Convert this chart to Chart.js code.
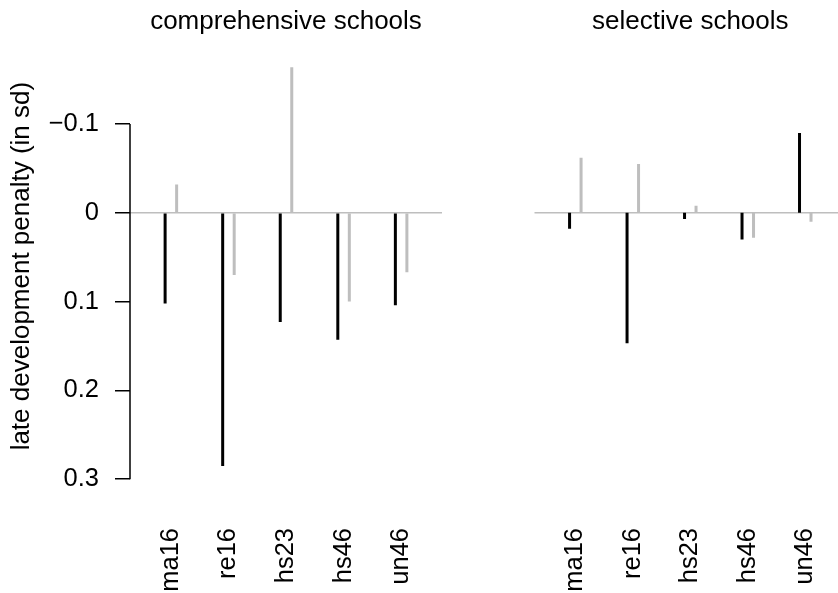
<!DOCTYPE html>
<html>
<head>
<meta charset="utf-8">
<script src="https://cdn.jsdelivr.net/npm/chart.js@4"></script>
<style>
  html, body { margin: 0; padding: 0; background: #fff; overflow: hidden; }
  #wrap { position: relative; width: 838px; height: 593px; overflow: hidden; }
  #left { position: absolute; left: 0; top: 0; }
  #right { position: absolute; left: 470px; top: 0; }
</style>
</head>
<body>
<div id="wrap">
  <canvas id="left" width="470" height="593"></canvas>
  <canvas id="right" width="400" height="593"></canvas>
</div>
<script>
// Data
const categories = ['ma16', 're16', 'hs23', 'hs46', 'un46'];
const compBlack = [0.102, 0.285, 0.123, 0.143, 0.104];
const compGray = [-0.032, 0.070, -0.164, 0.100, 0.067];
const selBlack = [0.018, 0.147, 0.007, 0.030, -0.090];
const selGray = [-0.062, -0.055, -0.008, 0.028, 0.010];
const yTicks = [-0.1, 0, 0.1, 0.2, 0.3];

const FONT = "'Liberation Sans', Arial, Helvetica, sans-serif";
const GRAY = '#bebebe';
Chart.defaults.font.family = FONT;
Chart.defaults.color = '#000';

const toPoints = (vals) => vals.map((v, i) => ({ x: i + 1, y: v }));
const fmtTick = (v) => v < 0 ? '\u2212' + Math.abs(v) : String(v);

// grey zero line and short R-style y axis line
const refLines = {
    id: 'refLines',
    beforeDatasetsDraw(chart, args, opts) {
        const { ctx, chartArea, scales } = chart;
        const y0 = scales.y.getPixelForValue(0);
        ctx.save();
        ctx.strokeStyle = GRAY;
        ctx.lineWidth = 1.5;
        ctx.beginPath();
        ctx.moveTo(chartArea.left, y0);
        ctx.lineTo(chartArea.right, y0);
        ctx.stroke();
        if (opts.axis) {
            ctx.strokeStyle = '#000';
            ctx.beginPath();
            ctx.moveTo(chartArea.left, scales.y.getPixelForValue(yTicks[0]));
            ctx.lineTo(chartArea.left, scales.y.getPixelForValue(yTicks[yTicks.length - 1]));
            ctx.stroke();
        }
        ctx.restore();
    }
};

const makeChart = (id, title, black, gray, showAxis, padding) => {
    const ctx = document.getElementById(id).getContext('2d');
    return new Chart(ctx, {
        type: 'bar',
        data: {
            datasets: [
                {
                    data: toPoints(black),
                    backgroundColor: '#000',
                    maxBarThickness: 3,
                    categoryPercentage: 0.4,
                    barPercentage: 1
                },
                {
                    data: toPoints(gray),
                    backgroundColor: GRAY,
                    maxBarThickness: 3,
                    categoryPercentage: 0.4,
                    barPercentage: 1
                }
            ]
        },
        options: {
            responsive: false,
            animation: false,
            devicePixelRatio: 1,
            layout: { padding: padding },
            plugins: {
                legend: { display: false },
                tooltip: { enabled: false },
                title: {
                    display: true,
                    text: title,
                    fullSize: false,
                    font: { size: 26, weight: 'normal' },
                    padding: { top: 6, bottom: -2 }
                },
                refLines: { axis: showAxis }
            },
            scales: {
                x: {
                    type: 'linear',
                    offset: false,
                    min: 0.29,
                    max: 5.71,
                    afterBuildTicks: (scale) => { scale.ticks = categories.map((c, i) => ({ value: i + 1 })); },
                    afterFit: (scale) => { scale.height = 96; },
                    grid: { display: false, drawTicks: false },
                    border: { display: false },
                    ticks: {
                        autoSkip: false,
                        minRotation: 90,
                        maxRotation: 90,
                        padding: 31,
                        font: { size: 25.5 },
                        callback: (v) => categories[v - 1]
                    }
                },
                y: {
                    display: showAxis,
                    reverse: true,
                    min: -0.2,
                    max: 0.32,
                    afterBuildTicks: (scale) => { scale.ticks = yTicks.map(v => ({ value: v })); },
                    afterFit: (scale) => { if (showAxis) scale.width = 130; },
                    grid: {
                        drawOnChartArea: false,
                        drawTicks: true,
                        tickLength: 15,
                        color: '#000',
                        lineWidth: 1.5
                    },
                    border: { display: false },
                    ticks: {
                        padding: 16,
                        font: { size: 25.5 },
                        callback: (v) => fmtTick(v)
                    },
                    title: {
                        display: true,
                        text: 'late development penalty (in sd)',
                        font: { size: 26 },
                        padding: { top: 6, bottom: 0 }
                    }
                }
            }
        },
        plugins: [refLines]
    });
};

makeChart('left', 'comprehensive schools', compBlack, compGray, true,
    { left: 0, right: 28, top: 0, bottom: 0 });
makeChart('right', 'selective schools', selBlack, selGray, false,
    { left: 64.5, right: 23.5, top: 0, bottom: 0 });
</script>
</body>
</html>
